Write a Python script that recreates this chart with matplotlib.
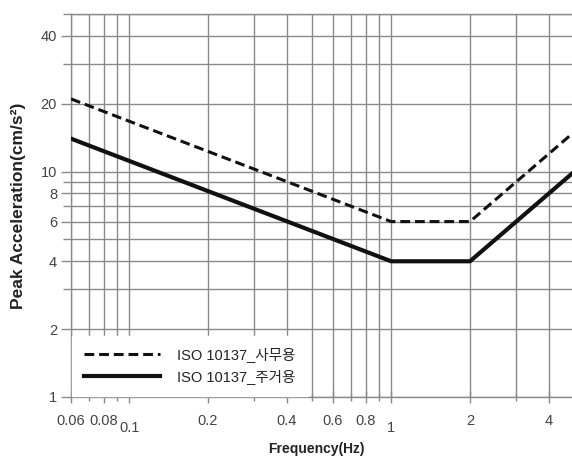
import matplotlib
matplotlib.use("Agg")
import matplotlib.pyplot as plt
from matplotlib.ticker import FixedLocator, NullFormatter, LogLocator

plt.rcParams['font.family'] = ['Liberation Sans', 'Noto Sans CJK KR', 'DejaVu Sans']

# values
freq = [0.06, 1, 2, 5]
office = [21, 6, 6, 15]        # ISO 10137 사무용
residential = [14, 4, 4, 10]   # ISO 10137 주거용

x_ticks = [0.06, 0.08, 0.1, 0.2, 0.4, 0.6, 0.8, 1, 2, 4]
x_labels = ['0.06', '0.08', '0.1', '0.2', '0.4', '0.6', '0.8', '1', '2', '4']
y_ticks = [1, 2, 4, 6, 8, 10, 20, 40]
y_labels = ['1', '2', '4', '6', '8', '10', '20', '40']

fig = plt.figure(figsize=(5.72, 4.58), dpi=100)
ax = fig.add_axes([71 / 572, 1 - 397 / 458, 1 - 71 / 572, (397 - 14) / 458])

ax.plot(freq, office, color='#111111', lw=2.2, ls=(0, (3.2, 1.6)),
        label='ISO 10137_사무용', zorder=3)
ax.plot(freq, residential, color='#111111', lw=3.0, ls='-',
        label='ISO 10137_주거용', zorder=3)

ax.set_xscale('log')
ax.set_yscale('log')
ax.set_xlim(0.06, 4.9)
ax.set_ylim(1, 50)

ax.xaxis.set_major_locator(FixedLocator(x_ticks))
ax.set_xticklabels(x_labels)
ax.yaxis.set_major_locator(FixedLocator(y_ticks))
ax.set_yticklabels(y_labels)
ax.xaxis.set_minor_locator(LogLocator(base=10, subs=range(1, 10)))
ax.yaxis.set_minor_locator(LogLocator(base=10, subs=range(1, 10)))
ax.xaxis.set_minor_formatter(NullFormatter())
ax.yaxis.set_minor_formatter(NullFormatter())

# grid on every log step, kept inside the axes box
ax.grid(True, which='both', axis='both', color='#8a8a8a', lw=1.0)
ax.set_axisbelow(True)
for tick in ax.xaxis.get_major_ticks() + ax.xaxis.get_minor_ticks() + \
        ax.yaxis.get_major_ticks() + ax.yaxis.get_minor_ticks():
    tick.gridline.set_clip_on(True)
    tick.gridline.set_clip_path(ax.patch)

ax.tick_params(axis='both', which='both', labelsize=10.5, labelcolor='#444444',
               color='#8a8a8a', width=1.0, top=False, right=False)
ax.tick_params(axis='y', which='major', direction='out', length=7, pad=3)
ax.tick_params(axis='y', which='minor', direction='out', length=6)
ax.tick_params(axis='x', which='major', direction='inout', length=9, pad=8)
ax.tick_params(axis='x', which='minor', direction='inout', length=6)

# decade labels sit a little lower in the original
for tick, val in zip(ax.xaxis.get_major_ticks(), x_ticks):
    if val in (0.1, 1):
        tick.set_pad(12.5)

for side in ['left', 'bottom', 'top']:
    ax.spines[side].set_color('#8a8a8a')
    ax.spines[side].set_linewidth(1.0)
ax.spines['right'].set_visible(False)

ax.set_ylabel('Peak Acceleration(cm/s²)', fontsize=12.5, fontweight='bold',
              color='#222222')
ax.yaxis.set_label_coords(-0.09, 0.5)
ax.set_xlabel('Frequency(Hz)', fontsize=10, fontweight='bold', color='#222222')
ax.xaxis.set_label_coords(0.49, -0.118)

leg = ax.legend(loc='lower left', bbox_to_anchor=(0.0, 0.0), fontsize=10.5,
                handlelength=5.2, handletextpad=1.2, labelspacing=0.45,
                borderpad=0.8, borderaxespad=0.1, frameon=True, fancybox=False,
                framealpha=1.0, facecolor='white', edgecolor='white')
for t in leg.get_texts():
    t.set_color('#222222')

fig.savefig('out.png', dpi=100)
